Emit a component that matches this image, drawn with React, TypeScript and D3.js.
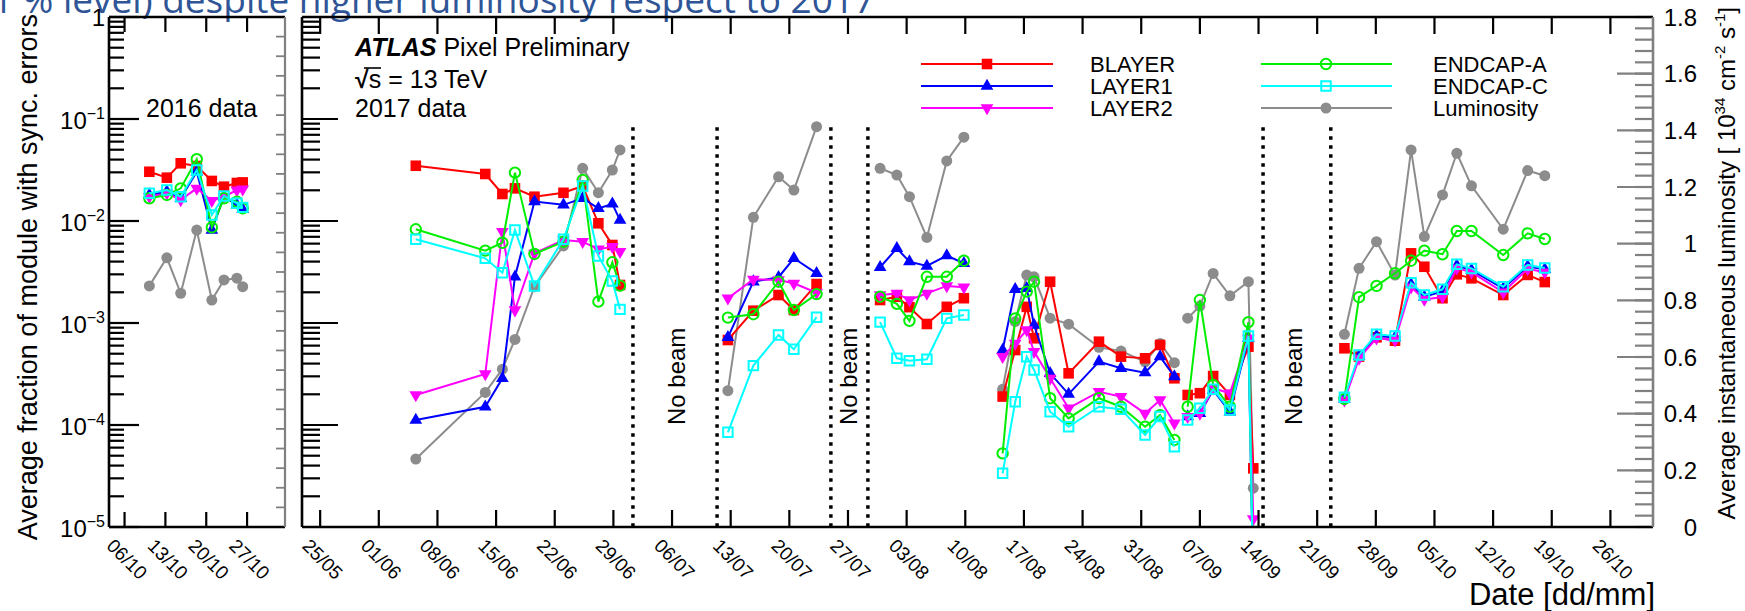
import React from "react";
import * as d3 from "d3";

// ---------------- DATA ----------------
const runs2016 = ["2016-10-10T06","2016-10-13T06","2016-10-15T15","2016-10-18T09","2016-10-20T23","2016-10-23T01","2016-10-25T06","2016-10-26T06"];
const blayer2016 = [0.0304, 0.0266, 0.0368, 0.0346, 0.0247, 0.0217, 0.0236, 0.0239];
const layer1_2016 = [0.0180, 0.0194, 0.0167, 0.0304, 0.00816, 0.0173, 0.0144, 0.0130];
const layer2_2016 = [0.0173, 0.0187, 0.0161, 0.0209, 0.0158, 0.0173, 0.0201, 0.0205];
const endcapA_2016 = [0.0167, 0.0180, 0.0209, 0.0403, 0.00867, 0.0167, 0.0155, 0.0133];
const endcapC_2016 = [0.0187, 0.0201, 0.0173, 0.0316, 0.01145, 0.0176, 0.0149, 0.0136];
const lum2016 = [0.851, 0.950, 0.825, 1.048, 0.801, 0.872, 0.878, 0.848];

const runs2017 = [
  "2017-06-05T10","2017-06-13T17","2017-06-15T18","2017-06-17T06","2017-06-19T14","2017-06-23T01","2017-06-25T08","2017-06-27T05","2017-06-28T21","2017-06-29T19",
  "2017-07-12T16","2017-07-15T17","2017-07-18T17","2017-07-20T13","2017-07-23T06",
  "2017-07-30T20","2017-08-01T20","2017-08-03T08","2017-08-05T10","2017-08-07T19","2017-08-09T20",
  "2017-08-14T11","2017-08-15T23","2017-08-17T08","2017-08-18T05","2017-08-20T03","2017-08-22T08","2017-08-25T23","2017-08-28T14","2017-08-31T11","2017-09-02T06","2017-09-03T23",
  "2017-09-05T13","2017-09-07T00","2017-09-08T14","2017-09-10T14","2017-09-12T19","2017-09-13T09",
  "2017-09-24T06","2017-09-26T00","2017-09-28T02","2017-09-30T07","2017-10-02T05","2017-10-03T19","2017-10-05T23","2017-10-07T16","2017-10-09T10","2017-10-13T05","2017-10-16T03","2017-10-18T04"
];
const segment2017 = [
  0,0,0,0,0,0,0,0,0,0,
  1,1,1,1,1,
  2,2,2,2,2,2,
  3,3,3,3,3,3,3,3,3,3,3,
  4,4,4,4,4,4,
  5,5,5,5,5,5,5,5,5,5,5,5
];
const blayer2017 = [
  0.0348, 0.0289, 0.0184, 0.0209, 0.0173, 0.0189, 0.0220, 0.00949, 0.00582, 0.00236,
  6.81e-4, 1.32e-3, 1.88e-3, 1.34e-3, 2.41e-3,
  1.68e-3, 1.81e-3, 1.43e-3, 9.78e-4, 1.44e-3, 1.75e-3,
  1.90e-4, 5.43e-4, 1.44e-3, 7.08e-4, 2.54e-3, 3.21e-4, 6.56e-4, 4.68e-4, 4.51e-4, 6.09e-4, 2.87e-4,
  1.97e-4, 2.05e-4, 3.02e-4, 1.97e-4, 5.86e-4, 3.76e-5,
  5.65e-4, 4.68e-4, 7.24e-4, 6.70e-4, 4.82e-3, 3.56e-3, 1.75e-3, 3.00e-3, 2.74e-3, 1.88e-3, 2.96e-3, 2.52e-3
];
const layer1_2017 = [
  1.12e-4, 1.51e-4, 2.87e-4, 2.84e-3, 0.0155, 0.0144, 0.0167, 0.0133, 0.0147, 0.0102,
  7.24e-4, 2.54e-3, 2.81e-3, 4.31e-3, 3.07e-3,
  3.52e-3, 5.40e-3, 3.99e-3, 3.62e-3, 4.57e-3, 3.85e-3,
  5.43e-4, 2.14e-3, 2.19e-3, 9.55e-4, 3.21e-4, 2.01e-4, 4.18e-4, 3.60e-4, 3.26e-4, 4.68e-4, 2.98e-4,
  1.21e-4, 1.30e-4, 2.20e-4, 1.35e-4, 7.08e-4, 0,
  1.80e-4, 4.70e-4, 7.50e-4, 7.20e-4, 2.40e-3, 1.80e-3, 2.05e-3, 3.65e-3, 3.30e-3, 2.18e-3, 3.60e-3, 3.35e-3
];
const layer2_2017 = [
  1.97e-4, 3.16e-4, 7.85e-3, 1.34e-3, 4.82e-3, 6.51e-3, 6.27e-3, 5.28e-3, 5.60e-3, 5.00e-3,
  1.75e-3, 2.68e-3, 2.64e-3, 2.45e-3, 1.98e-3,
  1.88e-3, 1.95e-3, 1.68e-3, 1.95e-3, 2.31e-3, 2.24e-3,
  4.68e-4, 6.32e-4, 8.54e-4, 5.24e-4, 2.87e-4, 1.46e-4, 2.12e-4, 1.90e-4, 1.30e-4, 1.76e-4, 1.04e-4,
  1.21e-4, 1.30e-4, 2.29e-4, 2.05e-4, 7.08e-4, 1.2e-5,
  1.75e-4, 4.50e-4, 7.10e-4, 6.80e-4, 2.25e-3, 1.70e-3, 1.80e-3, 3.45e-3, 3.15e-3, 2.00e-3, 3.40e-3, 3.15e-3
];
const endcapA_2017 = [
  8.29e-3, 5.12e-3, 6.12e-3, 0.0298, 4.75e-3, 6.27e-3, 0.0252, 1.62e-3, 3.94e-3, 2.32e-3,
  1.13e-3, 1.22e-3, 2.54e-3, 1.34e-3, 1.92e-3,
  1.81e-3, 1.54e-3, 1.05e-3, 2.84e-3, 2.84e-3, 4.08e-3,
  5.27e-5, 1.11e-3, 2.03e-3, 2.54e-3, 1.83e-4, 1.16e-4, 1.83e-4, 1.51e-4, 9.62e-5, 1.25e-4, 7.13e-5,
  1.51e-4, 1.68e-3, 2.47e-4, 1.51e-4, 1.02e-3, 0,
  1.80e-4, 1.79e-3, 2.31e-3, 3.07e-3, 4.08e-3, 5.12e-3, 4.72e-3, 7.98e-3, 7.98e-3, 4.64e-3, 7.57e-3, 6.66e-3
];
const endcapC_2017 = [
  6.61e-3, 4.31e-3, 3.11e-3, 8.16e-3, 2.31e-3, 6.61e-3, 0.0220, 4.54e-3, 2.58e-3, 1.36e-3,
  8.48e-5, 3.82e-4, 7.63e-4, 5.52e-4, 1.14e-3,
  1.02e-3, 4.51e-4, 4.27e-4, 4.41e-4, 1.11e-3, 1.20e-3,
  3.36e-5, 1.69e-4, 4.68e-4, 3.46e-4, 1.35e-4, 9.62e-5, 1.51e-4, 1.43e-4, 7.98e-5, 1.21e-4, 6.13e-5,
  1.12e-4, 1.46e-4, 2.24e-4, 1.40e-4, 7.46e-4, 0,
  1.87e-4, 4.86e-4, 7.75e-4, 7.46e-4, 2.48e-3, 1.88e-3, 2.14e-3, 3.76e-3, 3.43e-3, 2.27e-3, 3.71e-3, 3.46e-3
];
const lum2017 = [
  0.240, 0.475, 0.557, 0.662, 0.848, 0.992, 1.266, 1.180, 1.260, 1.331,
  0.481, 1.093, 1.236, 1.189, 1.413,
  1.266, 1.242, 1.166, 1.022, 1.292, 1.376,
  0.486, 0.725, 0.889, 0.883, 0.737, 0.716, 0.634, 0.621, 0.583, 0.648, 0.580,
  0.737, 0.780, 0.895, 0.816, 0.866, 0.137,
  0.680, 0.913, 1.007, 0.889, 1.331, 1.025, 1.172, 1.319, 1.204, 1.051, 1.258, 1.240
];

const noBeamEdges = ["2017-07-01T08","2017-07-11T09","2017-07-24T23","2017-07-29T09","2017-09-14T13","2017-09-22T15"];
const noBeamLabels = ["2017-07-07T14","2017-07-28T02","2017-09-19T05"];
const mainTickStart = "2017-05-25T00";
const mainTickCount = 23;
const leftTicks = ["2016-10-06T00","2016-10-13T00","2016-10-20T00","2016-10-27T00"];
const lumTicks = [0, 0.2, 0.4, 0.6, 0.8, 1, 1.2, 1.4, 1.6, 1.8];
const syncLevel = 0.0115;

const legendNames = ["BLAYER", "LAYER1", "LAYER2", "ENDCAP-A", "ENDCAP-C", "Luminosity"];

// ---------------- STYLE ----------------
const FONT = "'Liberation Sans', Arial, Helvetica, sans-serif";
const styles: Record<string, { color: string; marker: string }> = {
  BLAYER: { color: "#ff0000", marker: "fsquare" },
  LAYER1: { color: "#0000ff", marker: "tup" },
  LAYER2: { color: "#ff00ff", marker: "tdown" },
  "ENDCAP-A": { color: "#00ee00", marker: "ocircle" },
  "ENDCAP-C": { color: "#00ffff", marker: "osquare" },
  Luminosity: { color: "#8c8c8c", marker: "fcircle" },
};

const parse = d3.utcParse("%Y-%m-%dT%H") as (s: string) => Date;

function Marker({ kind, x, y, color }: { kind: string; x: number; y: number; color: string }) {
  const sq = d3.symbol(d3.symbolSquare, 112)() as string;
  const tri = d3.symbol(d3.symbolTriangle, 70)() as string;
  switch (kind) {
    case "fsquare":
      return <path d={sq} transform={`translate(${x},${y})`} fill={color} />;
    case "osquare":
      return <path d={d3.symbol(d3.symbolSquare, 90)() as string} transform={`translate(${x},${y})`} fill="none" stroke={color} strokeWidth={2} />;
    case "tup":
      return <path d={tri} transform={`translate(${x},${y})`} fill={color} />;
    case "tdown":
      return <path d={tri} transform={`translate(${x},${y}) rotate(180)`} fill={color} />;
    case "ocircle":
      return <circle cx={x} cy={y} r={5.2} fill="none" stroke={color} strokeWidth={2} />;
    default:
      return <circle cx={x} cy={y} r={5.5} fill={color} />;
  }
}

export default function App() {
  const W = 1745, H = 611;
  const top = 17, bottom = 527;
  const L = { x0: 109, x1: 285 };
  const M = { x0: 302, x1: 1653 };

  const yLog = d3.scaleLog().domain([1e-5, 1]).range([bottom, top]);
  const yLum = d3.scaleLinear().domain([0, 1.8]).range([bottom, top]);
  const xL = d3.scaleUtc().domain([parse("2016-10-03T08"), parse("2016-11-02T12")]).range([L.x0, L.x1]);
  const xM = d3.scaleUtc().domain([parse("2017-05-22T20"), parse("2017-10-31T02")]).range([M.x0, M.x1]);
  const yv = (v: number) => (v > 0 ? yLog(v) : bottom + 60);

  const fmt = d3.utcFormat("%d/%m");
  const mainTicks = d3.range(mainTickCount).map((i) => d3.utcDay.offset(parse(mainTickStart), 7 * i));
  const lTicks = leftTicks.map(parse);

  const series2016: Record<string, number[]> = {
    Luminosity: lum2016, BLAYER: blayer2016, LAYER1: layer1_2016, LAYER2: layer2_2016, "ENDCAP-A": endcapA_2016, "ENDCAP-C": endcapC_2016,
  };
  const series2017: Record<string, number[]> = {
    Luminosity: lum2017, BLAYER: blayer2017, LAYER1: layer1_2017, LAYER2: layer2_2017, "ENDCAP-A": endcapA_2017, "ENDCAP-C": endcapC_2017,
  };
  const drawOrder = ["Luminosity", "BLAYER", "LAYER1", "LAYER2", "ENDCAP-A", "ENDCAP-C"];

  const logMajors = d3.range(-5, 1).map((k) => Math.pow(10, k));
  const logMinors: number[] = [];
  for (let k = -5; k < 0; k++) for (let m = 2; m <= 9; m++) logMinors.push(m * Math.pow(10, k));
  const lumMinor = d3.range(0, 1.8001, 0.04);
  const lumLeftTicks = d3.range(0, 1.8001, 1.8 / 26);

  const renderSeries = (
    name: string,
    dates: Date[],
    vals: number[],
    segs: number[],
    x: d3.ScaleTime<number, number>
  ) => {
    const st = styles[name];
    const yf = name === "Luminosity" ? (v: number) => yLum(v) : yv;
    const groups = d3.groups(d3.range(vals.length), (i) => segs[i]);
    const line = d3.line<number>().x((i) => x(dates[i])).y((i) => yf(vals[i]));
    return (
      <g key={name}>
        {groups.map(([g, idx]) => (
          <path key={g} d={line(idx) as string} fill="none" stroke={st.color} strokeWidth={2} />
        ))}
        {vals.map((v, i) => (
          <Marker key={i} kind={st.marker} x={x(dates[i])} y={yf(v)} color={st.color} />
        ))}
      </g>
    );
  };

  const d2016 = runs2016.map(parse);
  const d2017 = runs2017.map(parse);
  const seg2016 = runs2016.map(() => 0);

  const logAxis = (x0: number, major: number, minor: number, labels: boolean) => (
    <g>
      {logMajors.map((v) => (
        <line key={"M" + v} x1={x0} x2={x0 + major} y1={yLog(v)} y2={yLog(v)} stroke="#000" strokeWidth={2.2} />
      ))}
      {logMinors.map((v) => (
        <line key={"m" + v} x1={x0} x2={x0 + minor} y1={yLog(v)} y2={yLog(v)} stroke="#000" strokeWidth={2.2} />
      ))}
      {labels &&
        logMajors.map((v) => {
          const k = Math.round(Math.log10(v));
          const y = yLog(v);
          if (k === 0)
            return (
              <text key={"t" + v} x={x0 - 4} y={y + 9} textAnchor="end" fontSize={24}>1</text>
            );
          return (
            <text key={"t" + v} x={x0 - 4} y={y + 10} textAnchor="end" fontSize={24}>
              10<tspan fontSize={16} dy={-10}>{"\u2212" + -k}</tspan>
            </text>
          );
        })}
    </g>
  );

  const timeTicks = (ticks: Date[], x: d3.ScaleTime<number, number>, len: number) => (
    <g>
      {ticks.map((t) => (
        <g key={+t}>
          <line x1={x(t)} x2={x(t)} y1={bottom} y2={bottom - len} stroke="#000" strokeWidth={2.2} />
          <line x1={x(t)} x2={x(t)} y1={top} y2={top + len} stroke="#000" strokeWidth={2.2} />
        </g>
      ))}
      {ticks.map((t) => {
        const lx = x(t) - 19, ly = bottom + 20;
        return (
          <text key={"l" + +t} x={lx} y={ly} fontSize={19} transform={`rotate(45 ${lx} ${ly})`}>
            {fmt(t)}
          </text>
        );
      })}
    </g>
  );

  const legendPos = [
    { lx0: 921, lx1: 1053, mx: 987, tx: 1090 },
    { lx0: 1261, lx1: 1392, mx: 1326, tx: 1433 },
  ];
  const legendRowY = [64, 86, 108];

  return (
    <svg width={W} height={H} style={{ position: "fixed", left: 0, top: 0, background: "#fff" }} fontFamily={FONT}>
      <defs>
        <clipPath id="clipL"><rect x={L.x0} y={top} width={L.x1 - L.x0} height={bottom - top} /></clipPath>
        <clipPath id="clipM"><rect x={M.x0} y={top} width={M.x1 - M.x0} height={bottom - top} /></clipPath>
        <filter id="shadow" x="-5%" y="-100%" width="110%" height="400%">
          <feDropShadow dx="0" dy="2" stdDeviation="1.6" floodColor="#000" floodOpacity="0.35" />
        </filter>
      </defs>
      <rect x={0} y={0} width={W} height={H} fill="#fff" />

      {/* slide title fragment */}
      <text x={-8} y={13} fontSize={37} fill="#2f5597" fontFamily="'Open Sans', sans-serif">
        1 % level) despite higher luminosity respect to 2017
      </text>

      {/* ---------- left panel (2016) ---------- */}
      <g clipPath="url(#clipL)">
        {drawOrder.map((n) => renderSeries(n, d2016, series2016[n], seg2016, xL))}
      </g>
      {logAxis(L.x0, 30, 15, true)}
      {lumLeftTicks.map((v, i) => (
        <line key={i} x1={L.x1} x2={L.x1 - 9} y1={yLum(v)} y2={yLum(v)} stroke="#808080" strokeWidth={1.8} />
      ))}
      {timeTicks(lTicks, xL, 15)}
      <line x1={L.x0} x2={L.x0} y1={top} y2={bottom} stroke="#000" strokeWidth={2.6} />
      <line x1={L.x0} x2={L.x1} y1={bottom} y2={bottom} stroke="#000" strokeWidth={2.6} />
      <line x1={L.x0} x2={L.x1} y1={top} y2={top} stroke="#000" strokeWidth={2.6} />
      <line x1={L.x1} x2={L.x1} y1={top} y2={bottom} stroke="#808080" strokeWidth={2.2} />
      <text x={146} y={117} fontSize={25}>2016 data</text>

      {/* ---------- main panel (2017) ---------- */}
      {noBeamEdges.map((s) => (
        <line key={s} x1={xM(parse(s))} x2={xM(parse(s))} y1={yLog(0.083)} y2={bottom} stroke="#000" strokeWidth={3.5} strokeDasharray="3.5 5.5" />
      ))}
      {noBeamLabels.map((s) => {
        const x = xM(parse(s)), y = yLog(3e-4);
        return (
          <text key={s} x={x} y={y} fontSize={24} textAnchor="middle" transform={`rotate(-90 ${x} ${y})`}>No beam</text>
        );
      })}
      <g clipPath="url(#clipM)">
        {drawOrder.map((n) => renderSeries(n, d2017, series2017[n], segment2017, xM))}
      </g>
      {logAxis(M.x0, 36, 18, false)}
      {lumTicks.map((v) => (
        <line key={"R" + v} x1={M.x1} x2={M.x1 - 36} y1={yLum(v)} y2={yLum(v)} stroke="#808080" strokeWidth={2.2} />
      ))}
      {lumMinor.map((v, i) => (
        <line key={"r" + i} x1={M.x1} x2={M.x1 - 18} y1={yLum(v)} y2={yLum(v)} stroke="#808080" strokeWidth={2.2} />
      ))}
      {lumTicks.map((v) => (
        <text key={"RL" + v} x={1697} y={yLum(v) + 8.5} textAnchor="end" fontSize={24}>
          {v === 0 ? "0" : v === 1 ? "1" : v.toFixed(1)}
        </text>
      ))}
      {timeTicks(mainTicks, xM, 17)}
      <line x1={M.x0} x2={M.x0} y1={top} y2={bottom} stroke="#000" strokeWidth={2.6} />
      <line x1={M.x0} x2={M.x1} y1={bottom} y2={bottom} stroke="#000" strokeWidth={2.6} />
      <line x1={M.x0} x2={M.x1} y1={top} y2={top} stroke="#000" strokeWidth={2.6} />
      <line x1={M.x1} x2={M.x1} y1={top} y2={bottom} stroke="#808080" strokeWidth={2.6} />

      {/* ATLAS label */}
      <text x={355} y={56} fontSize={25}>
        <tspan fontWeight="bold" fontStyle="italic">ATLAS</tspan> Pixel Preliminary
      </text>
      <text x={355} y={88} fontSize={25}>
        <tspan fontWeight="bold">{"\u221A"}</tspan>s = 13 TeV
      </text>
      <line x1={364} x2={381} y1={68} y2={68} stroke="#000" strokeWidth={1.6} />
      <text x={355} y={117} fontSize={25}>2017 data</text>

      {/* legend */}
      {legendNames.map((n, i) => {
        const col = Math.floor(i / 3), row = i % 3;
        const p = legendPos[col];
        const y = legendRowY[row];
        const st = styles[n];
        return (
          <g key={n}>
            <line x1={p.lx0} x2={p.lx1} y1={y} y2={y} stroke={st.color} strokeWidth={2.2} />
            <Marker kind={st.marker} x={p.mx} y={y} color={st.color} />
            <text x={p.tx} y={y + 8} fontSize={22}>{n}</text>
          </g>
        );
      })}

      {/* axis titles */}
      <text x={37} y={14} fontSize={27} textAnchor="end" transform={`rotate(-90 37 14)`}>
        Average fraction of module with sync. errors
      </text>
      <text x={1735} y={7} fontSize={24} textAnchor="end" transform={`rotate(-90 1735 7)`}>
        Average instantaneous luminosity [ 10<tspan fontSize={15} dy={-10}>34</tspan>
        <tspan dy={10}> cm</tspan><tspan fontSize={15} dy={-10}>-2</tspan>
        <tspan dy={10}> s</tspan><tspan fontSize={15} dy={-10}>-1</tspan><tspan dy={10}>]</tspan>
      </text>
      <text x={1655} y={605} fontSize={31} textAnchor="end">Date [dd/mm]</text>

      {/* 1% reference line overlay */}
      <line x1={-16.5} x2={1478} y1={yLog(syncLevel)} y2={yLog(syncLevel)} stroke="#188a18" strokeWidth={4.5} strokeDasharray="42.6 16" filter="url(#shadow)" />
    </svg>
  );
}
